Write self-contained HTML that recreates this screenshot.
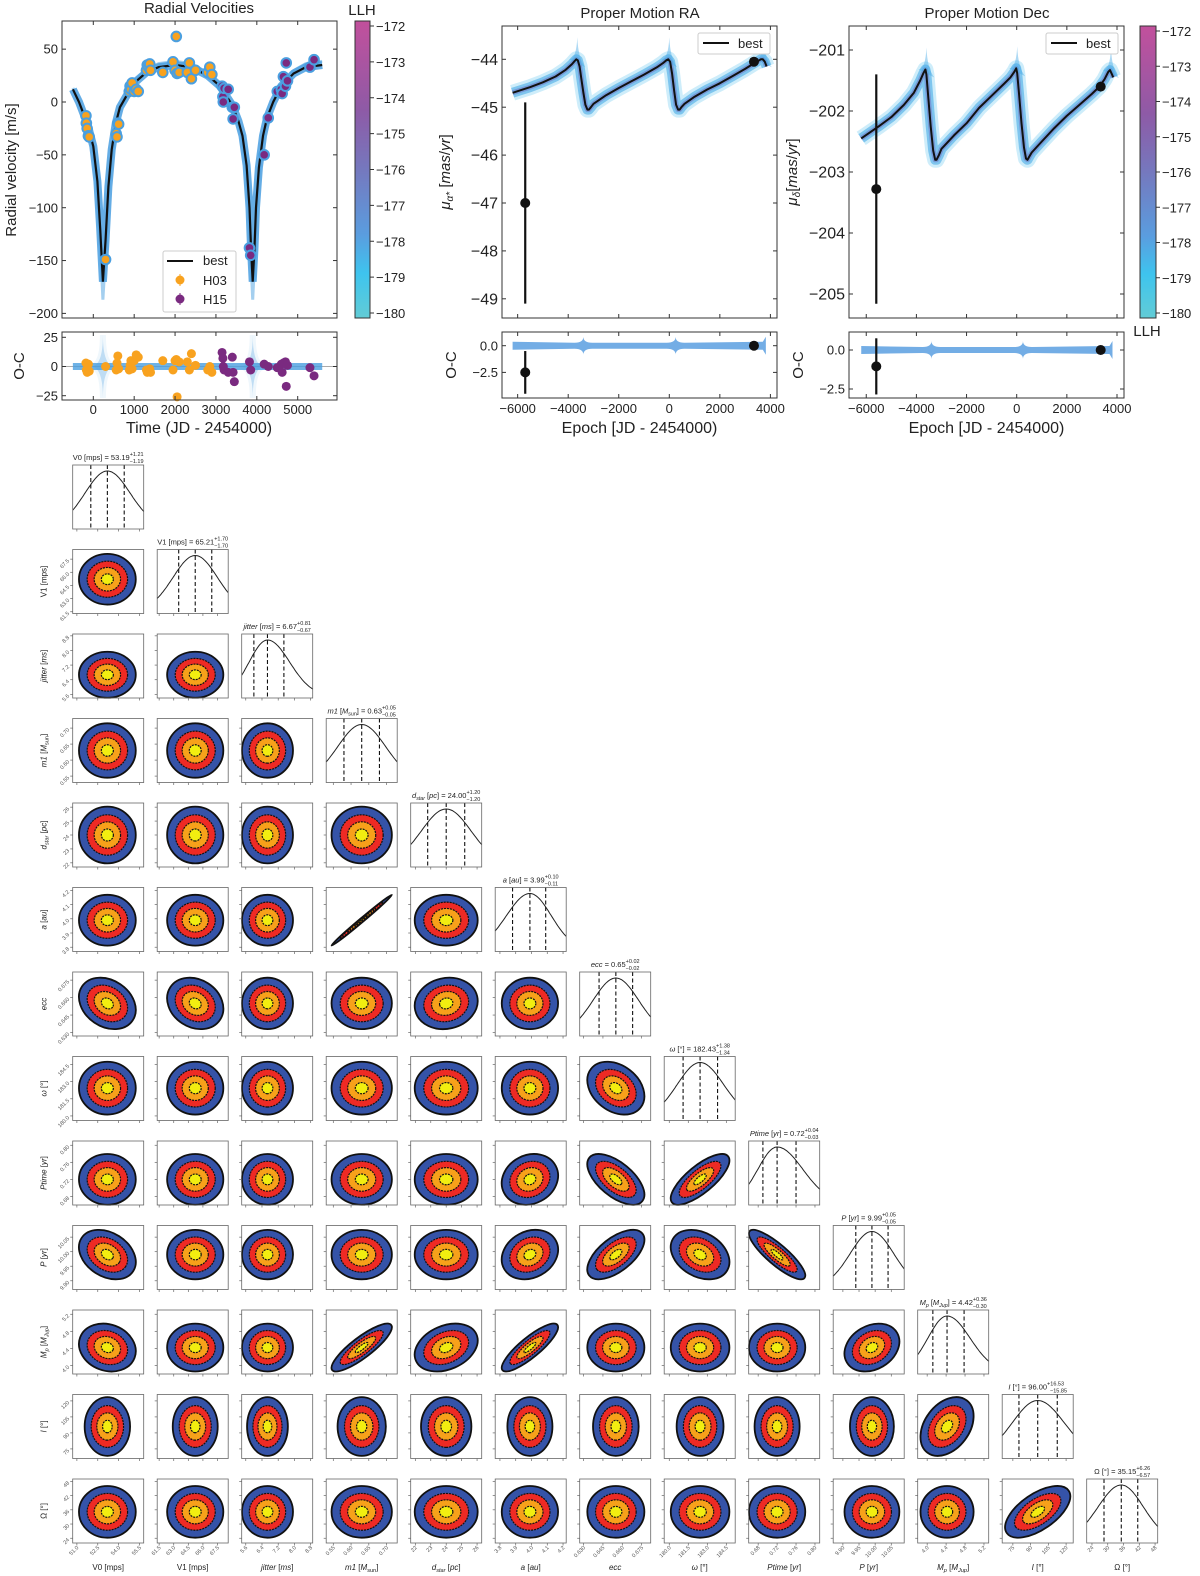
<!DOCTYPE html>
<html><head><meta charset="utf-8"><title>Orbit fit</title>
<style>
html,body{margin:0;padding:0;background:#fff;}
svg{display:block;font-family:"Liberation Sans","DejaVu Sans",sans-serif;}
</style></head>
<body>
<svg id="fig" width="1200" height="1576" viewBox="0 0 1200 1576" xmlns="http://www.w3.org/2000/svg">
<defs>
<linearGradient id="cbar" x1="0" y1="0" x2="0" y2="1">
<stop offset="0" stop-color="#c2509c"/><stop offset="0.3" stop-color="#8e5aa6"/><stop offset="0.5" stop-color="#7578be"/><stop offset="0.72" stop-color="#5a9ddf"/><stop offset="0.85" stop-color="#3ec4ee"/><stop offset="1" stop-color="#62ccd6"/>
</linearGradient>
</defs>
</svg>
<script>
// ---------- RV data ----------
const rvModelT=[-500,-350,-200,-100,0,100,170,235,300,370,450,550,650,800,1000,1300,1600,2000,2400,2800,3100,3400,3550,3650,3750,3820,3860,3900,3940,3980,4050,4150,4250,4400,4600,4900,5200,5600];
const rvModelV=[12,0,-15,-27,-42,-75,-120,-170,-130,-80,-45,-20,-5,5,18,28,33,35,33,25,15,-3,-18,-32,-60,-100,-140,-170,-140,-100,-62,-32,-15,0,15,27,33,35];
const h03T=[-180,-170,-150,-120,-100,300,560,580,600,620,880,900,920,950,1000,1050,1100,1300,1320,1350,1380,1400,1700,1950,2000,2030,2050,2100,2300,2350,2400,2500,2800,2850,2900];
const h03V=[-13,-20,-25,-32,-33,-149,-30,-33,-20,-21,10,15,12,18,10,12,10,30,35,33,36,30,28,38,30,62,27,28,28,37,22,30,28,33,26];
const h03R=[3,-3,-5,2,-4,0,-3,3,9,-2,-3,1,5,-2,5,10,8,-3,-5,-4,-2,-5,5,-3,5,6,-26,4,4,-3,11,1,-3,0,-5];
const h15T=[3150,3170,3180,3200,3300,3400,3420,3450,3820,3850,4180,4280,4500,4600,4620,4650,4700,4720,4750,5300,5400];
const h15V=[15,5,0,13,12,-5,-16,-5,-138,-145,-50,-15,10,12,8,24,15,37,20,33,40];
const h15R=[12,7,0,-3,-5,8,-5,-13,4,-3,2,0,-1,2,-5,3,4,-17,1,-1,-8];
const rvXTicks=[0,1000,2000,3000,4000,5000];
const rvYTicks=[-200,-150,-100,-50,0,50];
const ocYTicks=[-25,0,25];
const llhTicks=[-172,-173,-174,-175,-176,-177,-178,-179,-180];
// ---------- Proper motion data ----------
const pmT=[-6200,-5500,-5000,-4500,-4100,-3850,-3750,-3680,-3620,-3550,-3480,-3400,-3320,-3240,-3180,-3100,-3000,-2500,-2000,-1500,-1000,-500,-250,-120,-40,30,110,190,270,350,410,480,600,1000,1500,2000,2500,3000,3300,3500,3620,3700,3780,3850];
const pmRA=[-44.7,-44.58,-44.48,-44.36,-44.22,-44.1,-44.04,-44.0,-44.02,-44.15,-44.4,-44.7,-44.95,-45.05,-45.05,-45.0,-44.93,-44.75,-44.6,-44.46,-44.32,-44.17,-44.08,-44.02,-44.0,-44.05,-44.3,-44.65,-44.95,-45.05,-45.05,-45.0,-44.93,-44.78,-44.63,-44.5,-44.35,-44.2,-44.1,-44.04,-44.0,-44.0,-44.05,-44.15];
const pmDecT=[-6200,-5500,-5000,-4500,-4100,-3850,-3720,-3640,-3600,-3520,-3430,-3330,-3250,-3200,-3100,-3000,-2500,-2000,-1500,-1000,-500,-250,-100,-20,20,100,190,290,370,430,500,600,1000,1500,2000,2500,3000,3300,3500,3650,3720,3800,3850];
const pmDec=[-202.45,-202.25,-202.1,-201.9,-201.7,-201.5,-201.38,-201.32,-201.4,-201.8,-202.25,-202.65,-202.8,-202.8,-202.72,-202.62,-202.4,-202.2,-201.95,-201.75,-201.55,-201.45,-201.36,-201.3,-201.38,-201.75,-202.2,-202.6,-202.78,-202.8,-202.75,-202.68,-202.5,-202.28,-202.08,-201.9,-201.72,-201.6,-201.48,-201.36,-201.33,-201.4,-201.45];
const raObsT=[-5700,3350];const raObsV=[-47.0,-44.05];const raObsE=[2.1,0.03];const raOC=[-2.5,0];const raOCE=[2.0,0.03];
const decObsT=[-5600,3350];const decObsV=[-203.28,-201.6];const decObsE=[1.88,0.03];const decOC=[-1.05,0];const decOCE=[1.8,0.03];
const pmXTicks=[-6000,-4000,-2000,0,2000,4000];
const raYTicks=[-44,-45,-46,-47,-48,-49];
const decYTicks=[-201,-202,-203,-204,-205];
const pmOCTicks=[0.0,-2.5];
// ---------- Corner data ----------
const pLabelHTML=['V0 [mps]','V1 [mps]','<tspan font-style="italic">jitter</tspan> [<tspan font-style="italic">ms</tspan>]','<tspan font-style="italic">m1</tspan> [<tspan font-style="italic">M</tspan><tspan font-size="70%" dy="2">sun</tspan><tspan dy="-2">]</tspan>','<tspan font-style="italic">d</tspan><tspan font-size="70%" dy="2" font-style="italic">star</tspan><tspan dy="-2"> [</tspan><tspan font-style="italic">pc</tspan>]','<tspan font-style="italic">a</tspan> [<tspan font-style="italic">au</tspan>]','<tspan font-style="italic">ecc</tspan>','<tspan font-style="italic">ω</tspan> [°]','<tspan font-style="italic">Ptime</tspan> [<tspan font-style="italic">yr</tspan>]','<tspan font-style="italic">P</tspan> [<tspan font-style="italic">yr</tspan>]','<tspan font-style="italic">M</tspan><tspan font-size="70%" dy="2" font-style="italic">p</tspan><tspan dy="-2"> [</tspan><tspan font-style="italic">M</tspan><tspan font-size="70%" dy="2" font-style="italic">Jup</tspan><tspan dy="-2">]</tspan>','<tspan font-style="italic">I</tspan> [°]','Ω [°]'];
const pMed=[53.19,65.21,6.67,0.63,24.00,3.99,0.655,182.43,0.72,9.99,4.42,96.00,35.15];
const pErrP=[1.21,1.70,0.81,0.05,1.20,0.10,0.013,1.38,0.04,0.05,0.36,16.53,6.26];
const pErrM=[1.19,1.70,0.67,0.05,1.20,0.11,0.013,1.34,0.03,0.05,0.30,15.85,6.57];
const pMedTxt=['53.19','65.21','6.67','0.63','24.00','3.99','0.65','182.43','0.72','9.99','4.42','96.00','35.15'];
const pErrPTxt=['1.21','1.70','0.81','0.05','1.20','0.10','0.02','1.38','0.04','0.05','0.36','16.53','6.26'];
const pErrMTxt=['1.19','1.70','0.67','0.05','1.20','0.11','0.02','1.34','0.03','0.05','0.30','15.85','6.57'];
const pLo=[50.7,61.3,5.4,0.53,21.7,3.77,0.627,179.6,0.66,9.87,3.8,66,22];
const pHi=[55.8,68.6,8.9,0.73,26.3,4.22,0.682,185.2,0.81,10.09,5.3,126,49];
const pTicks=[[51.0,52.5,54.0,55.5],[61.5,63.0,64.5,66.0,67.5],[5.6,6.4,7.2,8.0,8.8],[0.55,0.60,0.65,0.70],[22,23,24,25,26],[3.8,3.9,4.0,4.1,4.2],[0.630,0.645,0.660,0.675],[180.0,181.5,183.0,184.5],[0.68,0.72,0.76,0.80],[9.90,9.95,10.00,10.05],[4.0,4.4,4.8,5.2],[75,90,105,120],[24,30,36,42,48]];
const pTickTxt=[['51.0','52.5','54.0','55.5'],['61.5','63.0','64.5','66.0','67.5'],['5.6','6.4','7.2','8.0','8.8'],['0.55','0.60','0.65','0.70'],['22','23','24','25','26'],['3.8','3.9','4.0','4.1','4.2'],['0.630','0.645','0.660','0.675'],['180.0','181.5','183.0','184.5'],['0.68','0.72','0.76','0.80'],['9.90','9.95','10.00','10.05'],['4.0','4.4','4.8','5.2'],['75','90','105','120'],['24','30','36','42','48']];
// correlations: [row, col, rho]
const corrPairs=[[5,3,0.995],[10,3,0.85],[10,5,0.85],[8,7,0.75],[8,6,-0.6],[9,6,0.6],[9,7,-0.3],[9,8,-0.85],[9,0,-0.3],[12,11,0.6],[11,10,0.35],[7,6,-0.3],[6,0,-0.25],[6,1,-0.2],[9,5,0.2],[10,9,0.25],[10,4,0.3],[10,0,-0.15],[8,5,0.15],[6,4,0.1]];
const levels=[1.7,1.21,0.79,0.36];
const levelColors=['#3553a8','#ee2a24','#f7a11a','#f2ee10'];

// ---------- helpers ----------
const NS='http://www.w3.org/2000/svg';
const svg=document.getElementById('fig');
function mk(tag,parent,attrs){const e=document.createElementNS(NS,tag);for(const k in attrs)e.setAttribute(k,attrs[k]);parent.appendChild(e);return e;}
function txt(parent,x,y,s,size,anchor,extra){const e=mk('text',parent,Object.assign({x:x,y:y,'font-size':size,'text-anchor':anchor||'middle',fill:'#222'},extra||{}));e.textContent=s;return e;}
function lin(a,b,c,d){return v=>c+(v-a)*(d-c)/(b-a);}
function grp(name){const g=mk('g',svg,{});return g;}
function pathFrom(xs,ys,fx,fy){return xs.map((t,i)=>(i?'L':'M')+fx(t).toFixed(1)+','+fy(ys[i]).toFixed(1)).join('');}
function frame(g,x0,y0,x1,y1,name){const r=mk('rect',g,{x:x0,y:y0,width:x1-x0,height:y1-y0,fill:'none',stroke:'#333','stroke-width':1});}
function xticks(g,vals,fx,y0,y1,labels,size,ly){vals.forEach((v,i)=>{const x=fx(v);mk('line',g,{x1:x,x2:x,y1:y1,y2:y1-4,stroke:'#333'});mk('line',g,{x1:x,x2:x,y1:y0,y2:y0+4,stroke:'#333'});if(labels){const t=txt(g,x,ly,labels(v),size,'middle');}});}
function yticks(g,vals,fy,x0,x1,labels,size){vals.forEach(v=>{const y=fy(v);mk('line',g,{x1:x0,x2:x0+4,y1:y,y2:y,stroke:'#333'});mk('line',g,{x1:x1,x2:x1-4,y1:y,y2:y,stroke:'#333'});if(labels){const t=txt(g,x0-4,y+size*0.35,labels(v),size,'end');}});}
const minus=v=>(v<0?'−':'')+Math.abs(v);
function colorbar(g,x0,x1,y0,y1,fy,labelX){const r=mk('rect',g,{x:x0,y:y0,width:x1-x0,height:y1-y0,fill:'url(#cbar)',stroke:'#333'});
 llhTicks.forEach(v=>{const y=fy(v);mk('line',g,{x1:x1,x2:x1+4,y1:y,y2:y,stroke:'#333'});const t=txt(g,labelX,y+5,minus(v),13,'start');});}

// ================= RV panel =================
(function(){
 const g=grp('radial-velocity-panel');
 const fx=lin(0,5000,93.3,297.7), fy=lin(0,-200,102,313.4);
 const t=txt(g,199,13,'Radial Velocities',15);
 const band=mk('path',g,{d:pathFrom(rvModelT,rvModelV.map(v=>v*1.1),fx,fy),fill:'none',stroke:'#4a9fe0','stroke-width':3,opacity:0.5});
 
 const band2=mk('path',g,{d:pathFrom(rvModelT,rvModelV,fx,fy),fill:'none',stroke:'#4a9fe0','stroke-width':8,opacity:0.85});
 
 const best=mk('path',g,{d:pathFrom(rvModelT,rvModelV,fx,fy),fill:'none',stroke:'#111','stroke-width':2.2});
 
 h03T.forEach((tt,i)=>{const c=mk('circle',g,{cx:fx(tt),cy:fy(h03V[i]),r:4.8,fill:'#f8a21f',stroke:'#4a9fe0','stroke-width':2});});
 h15T.forEach((tt,i)=>{const c=mk('circle',g,{cx:fx(tt),cy:fy(h15V[i]),r:4.8,fill:'#7a2a80',stroke:'#4a9fe0','stroke-width':2});});
 frame(g,62,21,337,318,'rv-plot-frame');
 xticks(g,rvXTicks,fx,21,318,null);
 yticks(g,rvYTicks,fy,62,337,minus,13);
 const yl=txt(g,0,0,'Radial velocity [m/s]',15,'middle',{transform:'translate(16,170) rotate(-90)'});
 const lg=mk('g',g,{});
 mk('rect',lg,{x:163,y:251,width:73,height:61,fill:'#fff',stroke:'#ccc',rx:2});
 mk('line',lg,{x1:167,x2:193,y1:261,y2:261,stroke:'#111','stroke-width':2});
 txt(lg,203,265,'best',13,'start');
 mk('circle',lg,{cx:180,cy:280,r:4.5,fill:'#f8a21f'});mk('line',lg,{x1:180,x2:180,y1:274,y2:286,stroke:'#f8a21f'});
 txt(lg,203,285,'H03',13,'start');
 mk('circle',lg,{cx:180,cy:299,r:4.5,fill:'#7a2a80'});mk('line',lg,{x1:180,x2:180,y1:293,y2:305,stroke:'#7a2a80'});
 txt(lg,203,304,'H15',13,'start');
 const fr=lin(0,25,366.5,337.3);
 mk('line',g,{x1:62,x2:337,y1:fr(0),y2:fr(0),stroke:'#aaa'});
 [235,3900].forEach(tc=>{const p=mk('path',g,{d:`M${fx(tc-300)},${fr(0)}Q${fx(tc)},${fr(0)} ${fx(tc)},${fr(27)}Q${fx(tc)},${fr(0)} ${fx(tc+300)},${fr(0)}Q${fx(tc)},${fr(0)} ${fx(tc)},${fr(-27)}Q${fx(tc)},${fr(0)} ${fx(tc-300)},${fr(0)}Z`,fill:'#4a9fe0',opacity:0.35,stroke:'#4a9fe0','stroke-width':6,'stroke-opacity':0.25});});
 const ob=mk('line',g,{x1:fx(-500),x2:fx(5600),y1:fr(0),y2:fr(0),stroke:'#4a9fe0','stroke-width':7,opacity:0.8});
 h03T.forEach((tt,i)=>{const c=mk('circle',g,{cx:fx(tt),cy:fr(h03R[i]),r:4.5,fill:'#f8a21f'});});
 h15T.forEach((tt,i)=>{const c=mk('circle',g,{cx:fx(tt),cy:fr(h15R[i]),r:4.5,fill:'#7a2a80'});});
 frame(g,62,332,337,400,'rv-oc-frame');
 xticks(g,rvXTicks,fx,332,400,v=>String(v),13,414);
 yticks(g,ocYTicks,fr,62,337,minus,13);
 const ol=txt(g,0,0,'O-C',15,'middle',{transform:'translate(24,366) rotate(-90)'});
 const xl=txt(g,199,433,'Time (JD - 2454000)',16);
 colorbar(g,355,370,21,318,lin(-172,-180,26,313),376);
 const ll=txt(g,362,15,'LLH',15);
})();

// ================= PM panels =================
function pmPanel(name,title,x0,x1,fx,fy,tx,ty,yTicks,obsT,obsV,obsE,ocV,ocE,fr,ylab,titleX,legX,peakTs,peakDir){
 const g=grp(name);
 const t=txt(g,titleX,18,title,15);
 const b1=mk('path',g,{d:pathFrom(tx,ty,fx,fy),fill:'none',stroke:'#5cc3f0','stroke-width':16,opacity:0.3,'stroke-linejoin':'round'});
 const b2=mk('path',g,{d:pathFrom(tx,ty,fx,fy),fill:'none',stroke:'#4aaae6','stroke-width':10,opacity:0.6,'stroke-linejoin':'round'});
 const b3=mk('path',g,{d:pathFrom(tx,ty,fx,fy),fill:'none',stroke:'#6f76c6','stroke-width':5,opacity:0.55,'stroke-linejoin':'round'});
 peakTs.forEach(pt=>{const i=tx.indexOf(pt);const x=fx(pt),y=fy(ty[i]);const s=mk('path',g,{d:`M${x-7},${y}Q${x},${y} ${x+1},${y-peakDir*22}Q${x+2},${y} ${x+9},${y+peakDir*8}Z`,fill:'#4aaae6',opacity:0.45});});
 const bl=mk('path',g,{d:pathFrom(tx,ty,fx,fy),fill:'none',stroke:'#111','stroke-width':2,'stroke-linejoin':'round'});
 obsT.forEach((tt,i)=>{mk('line',g,{x1:fx(tt),x2:fx(tt),y1:fy(obsV[i]-obsE[i]),y2:fy(obsV[i]+obsE[i]),stroke:'#111','stroke-width':2.2});const c=mk('circle',g,{cx:fx(tt),cy:fy(obsV[i]),r:5,fill:'#111'});});
 frame(g,x0,26,x1,318,name+'-frame');
 xticks(g,pmXTicks,fx,26,318,null);
 yticks(g,yTicks,fy,x0,x1,minus,16);
 const lg=mk('g',g,{});
 mk('rect',lg,{x:legX,y:33,width:72,height:21,fill:'#fff',stroke:'#ccc',rx:2});
 mk('line',lg,{x1:legX+5,x2:legX+31,y1:43,y2:43,stroke:'#111','stroke-width':2});
 txt(lg,legX+40,48,'best',13,'start');
 const oc=mk('g',g,{});
 const y0=fr(0);
 const bulge=(tc,h)=>`L${fx(tc-350)},${y0-3}Q${fx(tc)},${y0-3} ${fx(tc)},${y0-h}Q${fx(tc)},${y0-3} ${fx(tc+350)},${y0-3}`;
 const bulgeB=(tc,h)=>`L${fx(tc+350)},${y0+3}Q${fx(tc)},${y0+3} ${fx(tc)},${y0+h}Q${fx(tc)},${y0+3} ${fx(tc-350)},${y0+3}`;
 const bd=mk('path',oc,{d:`M${fx(-6200)},${y0-4}${bulge(-3400,9)}${bulge(250,9)}L${fx(3700)},${y0-4}L${fx(3820)},${y0-9}L${fx(3820)},${y0+9}L${fx(3700)},${y0+4}${bulgeB(250,9)}${bulgeB(-3400,9)}L${fx(-6200)},${y0+4}Z`,fill:'#5a9fe0',opacity:0.85});
 
 obsT.forEach((tt,i)=>{mk('line',oc,{x1:fx(tt),x2:fx(tt),y1:fr(ocV[i]-ocE[i]),y2:fr(ocV[i]+ocE[i]),stroke:'#111','stroke-width':2.2});const c=mk('circle',oc,{cx:fx(tt),cy:fr(ocV[i]),r:5,fill:'#111'});});
 frame(oc,x0,332,x1,398,name+'-oc-frame');
 xticks(oc,pmXTicks,fx,332,398,v=>minus(v),13,413);
 yticks(oc,pmOCTicks,fr,x0,x1,v=>minus(v).replace(/^(−?\d+)$/,'$1.0'),13);
 const ol=txt(oc,0,0,'O-C',15,'middle',{transform:`translate(${x0-46},365) rotate(-90)`});
 const xl=txt(g,(x0+x1)/2,433,'Epoch [JD - 2454000)',16);
 const yl=mk('text',g,{transform:`translate(${x0-52},172) rotate(-90)`,'font-size':15,'text-anchor':'middle',fill:'#222'});
 yl.innerHTML=ylab;
 return g;
}
pmPanel('pm-ra','Proper Motion RA',502,777,lin(0,4000,669.3,770.4),lin(-44,-49,59.3,298.8),pmT,pmRA,raYTicks,raObsT,raObsV,raObsE,raOC,raOCE,lin(0,-2.5,345.7,372.4),'<tspan font-style="italic">μ</tspan><tspan font-size="10" dy="3" font-style="italic">α*</tspan><tspan dy="-3"> [</tspan><tspan font-style="italic">mas</tspan>/<tspan font-style="italic">yr</tspan>]',640,698,[-3680,-40,3700],1);
const decG=pmPanel('pm-dec','Proper Motion Dec',849,1124,lin(0,4000,1016.7,1117),lin(-201,-205,50,294),pmDecT,pmDec,decYTicks,decObsT,decObsV,decObsE,decOC,decOCE,lin(0,-2.5,350,389),'<tspan font-style="italic">μ</tspan><tspan font-size="10" dy="3" font-style="italic">δ</tspan><tspan dy="-3">[</tspan><tspan font-style="italic">mas</tspan>/<tspan font-style="italic">yr</tspan>]',987,1046,[-3640,-20,3720],1);
colorbar(decG,1140,1156,26,318,lin(-172,-180,31,313),1162);
const ll2=txt(decG,1147,336,'LLH',15);

// ================= Corner plot =================
(function(){
 const g=grp('corner-plot');
 const N=pMed.length, X0=72.7, Y0=465, STEP=84.5, W=71, H=64;
 const sig=pErrP.map((p,i)=>(p+pErrM[i])/2);
 const rhoOf=(r,c)=>{for(const q of corrPairs)if(q[0]===r&&q[1]===c)return q[2];return 0;};
 for(let r=0;r<N;r++){
  for(let c=0;c<=r;c++){
   const x0=X0+c*STEP, y0=Y0+r*STEP;
   const cell=mk('g',g,{});
   const fx=lin(pLo[c],pHi[c],x0,x0+W);
   if(r===c){
    
    let d='';for(let k=0;k<=60;k++){const v=pLo[c]+(pHi[c]-pLo[c])*k/60;const s=v<pMed[c]?pErrM[c]:pErrP[c];const z=(v-pMed[c])/s;const y=y0+H-2-(H-8)*Math.exp(-0.5*z*z*0.55);d+=(k?'L':'M')+fx(v).toFixed(1)+','+y.toFixed(1);}
    mk('path',cell,{d:d,fill:'none',stroke:'#222','stroke-width':1});
    [pMed[c]-pErrM[c],pMed[c],pMed[c]+pErrP[c]].forEach(v=>{const l=mk('line',cell,{x1:fx(v),x2:fx(v),y1:y0,y2:y0+H,stroke:'#111','stroke-width':1.1,'stroke-dasharray':'4,2.5'});});
    const tt=mk('text',cell,{x:x0+W/2,y:y0-5,'font-size':7.5,'text-anchor':'middle',fill:'#222'});
    tt.innerHTML=pLabelHTML[c]+' = '+pMedTxt[c]+'<tspan font-size="5.5" dy="-4">+'+pErrPTxt[c]+'</tspan><tspan font-size="5.5" dx="-14" dy="7">−'+pErrMTxt[c]+'</tspan>';
    
   } else {
    
    const fy=lin(pLo[r],pHi[r],y0+H,y0);
    const cx=fx(pMed[c]), cy=fy(pMed[r]);
    let sx=sig[c]*W/(pHi[c]-pLo[c]), sy=sig[r]*H/(pHi[r]-pLo[r]);
    if(r===11&&c!==10) sx*=0.8;
    const rho=rhoOf(r,c);
    const a=sx*sx, b=-rho*sx*sy, dd=sy*sy;
    const tr=(a+dd)/2, det=Math.sqrt(((a-dd)/2)**2+b*b);
    const l1=tr+det, l2=Math.max(tr-det,0.15);
    const ang=Math.atan2(l1-a,b)*180/Math.PI;
    const angle=(Math.abs(b)<1e-9)?(a>=dd?0:90):ang;
    levels.forEach((L,k)=>{const e=mk('ellipse',cell,{cx:cx,cy:cy,rx:L*Math.sqrt(l1),ry:L*Math.sqrt(l2),transform:`rotate(${angle} ${cx} ${cy})`,fill:levelColors[k],stroke:'#111','stroke-width':k===0?1.8:1.2,'stroke-dasharray':k===0?'none':'2,1'});});
   }
   mk('rect',cell,{x:x0,y:y0,width:W,height:H,fill:'none',stroke:'#666','stroke-width':0.8});
   pTicks[c].forEach(v=>{mk('line',cell,{x1:fx(v),x2:fx(v),y1:y0+H,y2:y0+H+2.5,stroke:'#666','stroke-width':0.7});});
   if(r!==c){const fy=lin(pLo[r],pHi[r],y0+H,y0);pTicks[r].forEach(v=>{mk('line',cell,{x1:x0,x2:x0-2.5,y1:fy(v),y2:fy(v),stroke:'#666','stroke-width':0.7});});}
   if(c===0&&r>0){const fy=lin(pLo[r],pHi[r],y0+H,y0);
    pTicks[r].forEach((v,i)=>{const t=txt(cell,0,0,pTickTxt[r][i],5.5,'end',{transform:`translate(${x0-3},${fy(v)+2}) rotate(-45)`,fill:'#555'});});
    const yl=mk('text',cell,{transform:`translate(${x0-26},${y0+H/2}) rotate(-90)`,'font-size':8,'text-anchor':'middle',fill:'#222'});yl.innerHTML=pLabelHTML[r];}
   if(r===N-1){
    pTicks[c].forEach((v,i)=>{const t=txt(cell,0,0,pTickTxt[c][i],5.5,'end',{transform:`translate(${fx(v)+2},${y0+H+5}) rotate(-45)`,fill:'#555'});});
    const xl=mk('text',cell,{x:x0+W/2,y:y0+H+27,'font-size':8,'text-anchor':'middle',fill:'#222'});xl.innerHTML=pLabelHTML[c];}
  }
 }
})();
</script>
</body></html>
